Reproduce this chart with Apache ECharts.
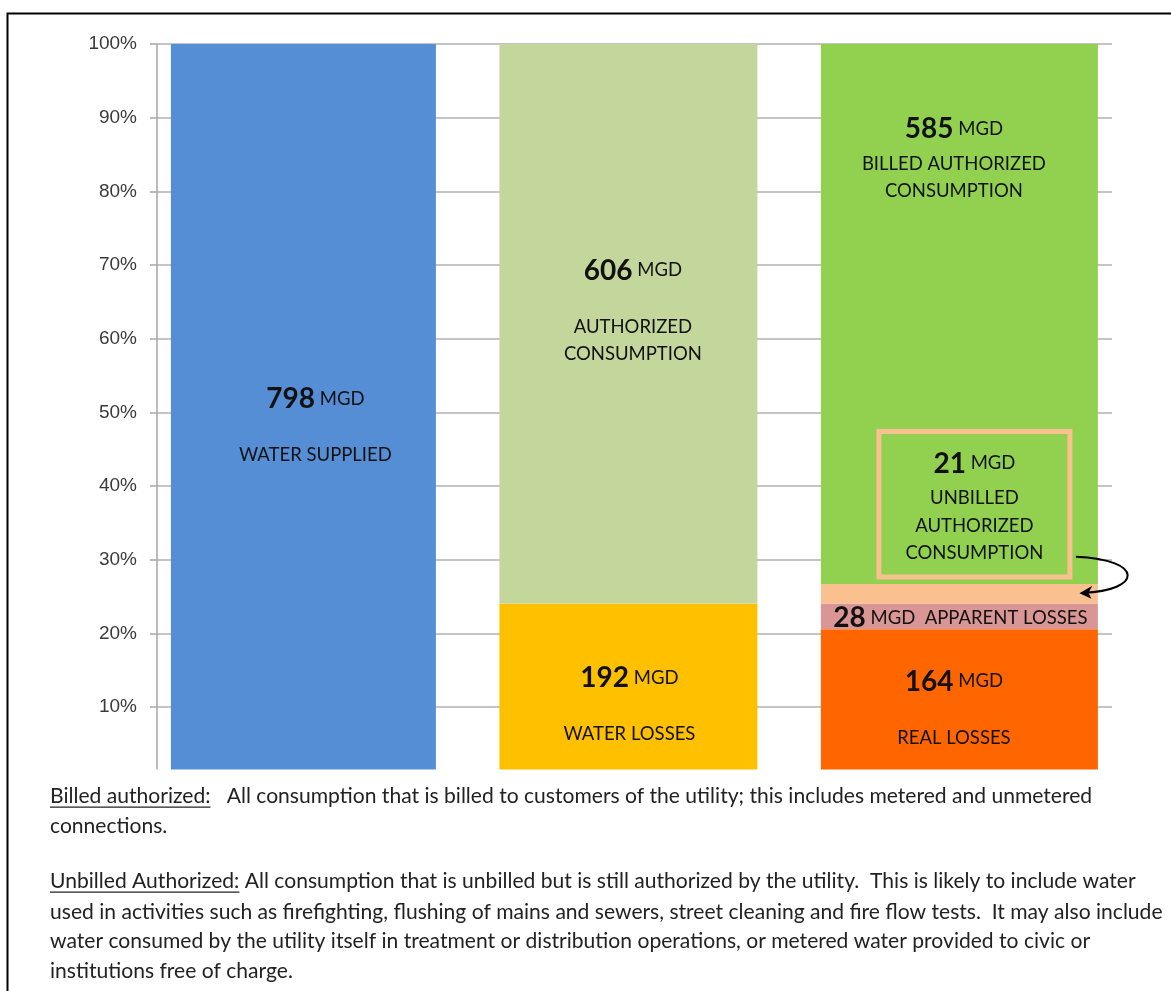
<!DOCTYPE html>
<html>
<head>
<meta charset="utf-8">
<script src="https://cdn.jsdelivr.net/npm/echarts@6/dist/echarts.min.js"></script>
<style>
  html, body { margin: 0; padding: 0; background: #ffffff; }
  #chart { width: 1171px; height: 991px; }
</style>
</head>
<body>
<div id="chart"></div>
<script>
// Water balance in million gallons per day (MGD), shown as shares of the water supplied
const categories = ['Supplied', 'Use and losses', 'Components'];

const suppliedNames = ['WATER SUPPLIED'];
const suppliedMgd = [798];

const balanceNames = ['WATER LOSSES', 'AUTHORIZED\nCONSUMPTION'];
const balanceMgd = [192, 606];

const componentNames = ['REAL LOSSES', 'APPARENT LOSSES', 'UNBILLED\nAUTHORIZED\nCONSUMPTION', 'BILLED AUTHORIZED\nCONSUMPTION'];
const componentMgd = [164, 28, 21, 585];

const percentTicks = [0, 10, 20, 30, 40, 50, 60, 70, 80, 90, 100];

const noteLines = [
  { u: 'Billed authorized:', t: '   All consumption that is billed to customers of the utility; this includes metered and unmetered' },
  { u: '', t: 'connections.' },
  { u: 'Unbilled Authorized:', t: ' All consumption that is unbilled but is still authorized by the utility.  This is likely to include water' },
  { u: '', t: 'used in activities such as firefighting, flushing of mains and sewers, street cleaning and fire flow tests.  It may also include' },
  { u: '', t: 'water consumed by the utility itself in treatment or distribution operations, or metered water provided to civic or' },
  { u: '', t: 'institutions free of charge.' }
];

// ---- styling ----
const LABEL_FONT = 'Lato, "Open Sans", sans-serif';
const INK = '#111111';
const colors = {
  supplied: '#558ED5',
  losses: '#FFC000',
  authorized: '#C3D69B',
  real: '#FF6600',
  apparent: '#D99694',
  unbilled: '#FAC090',
  billed: '#92D050'
};
// column widths (px) for the three stacks
const columnWidths = [265, 258, 277];
// which bar frame each column is laid out in
const columnGrid = [1, 2, 1];

const total = suppliedMgd[0];
const pct = v => v / total * 100;

const rich = {
  n: { fontFamily: LABEL_FONT, fontWeight: 'bold', fontSize: 28, lineHeight: 30, color: INK },
  m: { fontFamily: LABEL_FONT, fontSize: 18.5, lineHeight: 30, color: INK },
  n2: { fontFamily: LABEL_FONT, fontWeight: 'bold', fontSize: 28, lineHeight: 42, color: INK },
  m2: { fontFamily: LABEL_FONT, fontSize: 18.5, lineHeight: 42, color: INK },
  t: { fontFamily: LABEL_FONT, fontSize: 18.5, lineHeight: 27.5, color: INK }
};

const nameLines = name => name.split('\n').map(s => '{t|' + s + '}').join('\n');
// value line, blank line, caption
const spacedLabel = (mgd, name) => '{n|' + mgd + '} {m|MGD}\n{t| }\n' + nameLines(name);
// value line directly above the caption
const tightLabel = (mgd, name) => '{n2|' + mgd + '} {m2|MGD}\n' + nameLines(name);

// each column sits on its own (hidden) category axis so it can keep its own width
function seg(name, col, values, color, labelText, labelExtra) {
  const data = categories.map((c, i) => (i === col ? pct(values) : '-'));
  return {
    name: name,
    type: 'bar',
    stack: 'total' + col,
    xAxisIndex: 1 + col,
    yAxisIndex: columnGrid[col],
    barWidth: columnWidths[col],
    data: data,
    itemStyle: { color: color },
    emphasis: { disabled: true },
    label: Object.assign({
      show: true,
      position: 'inside',
      formatter: labelText,
      fontFamily: LABEL_FONT,
      fontSize: 18.5,
      color: INK,
      rich: rich
    }, labelExtra)
  };
}

const series = [
  seg(suppliedNames[0], 0, suppliedMgd[0], colors.supplied,
      spacedLabel(suppliedMgd[0], suppliedNames[0]), { offset: [12, 14] }),

  seg(balanceNames[0], 1, balanceMgd[0], colors.losses,
      spacedLabel(balanceMgd[0], balanceNames[0]), { offset: [1, 13.5] }),
  seg(balanceNames[1], 1, balanceMgd[1], colors.authorized,
      '{n|' + balanceMgd[1] + '} {m|MGD}\n{t| }\n' + nameLines(balanceNames[1]), { offset: [4.5, -12] }),

  seg(componentNames[0], 2, componentMgd[0], colors.real,
      spacedLabel(componentMgd[0], componentNames[0]), { offset: [-5.5, 4] }),
  seg(componentNames[1], 2, componentMgd[1], colors.apparent,
      '{n|' + componentMgd[1] + '} {m|MGD}  {m|' + componentNames[1] + '}', { offset: [1, 1.5] }),
  seg(componentNames[2], 2, componentMgd[2], colors.unbilled,
      tightLabel(componentMgd[2], componentNames[2]),
      { offset: [15, -89.5], width: 191, padding: [11, 0, 10, 0], borderColor: '#FAC090', borderWidth: 5, align: 'center' }),
  seg(componentNames[3], 2, componentMgd[3], colors.billed,
      tightLabel(componentMgd[3], componentNames[3]), { offset: [-5.5, -157.5] })
];

const chart = echarts.init(document.getElementById('chart'), null, { renderer: 'canvas' });

const GRID_TOP = 44;
const GRID_BOTTOM = 210.3;

chart.setOption({
  animation: false,
  backgroundColor: '#ffffff',
  grid: [
    // frame carrying the percentage axis and its gridlines
    { left: 157, right: 59, top: GRID_TOP, bottom: GRID_BOTTOM },
    // frames holding the stacked columns
    { left: 139.4, right: 47.6, top: GRID_TOP, bottom: GRID_BOTTOM },
    { left: 136.4, right: 50.6, top: GRID_TOP, bottom: GRID_BOTTOM }
  ],
  xAxis: [
    { type: 'category', gridIndex: 0, data: categories, show: false },
    { type: 'category', gridIndex: columnGrid[0], data: categories, show: false },
    { type: 'category', gridIndex: columnGrid[1], data: categories, show: false },
    { type: 'category', gridIndex: columnGrid[2], data: categories, show: false }
  ],
  yAxis: [
    {
      type: 'value', gridIndex: 0, min: percentTicks[0], max: percentTicks[percentTicks.length - 1], interval: 10,
      axisLine: { show: true, lineStyle: { color: '#A6A6A6', width: 1.5 } },
      axisTick: { show: true, length: 7, lineStyle: { color: '#A6A6A6', width: 1.5 } },
      splitLine: { show: true, lineStyle: { color: '#B0B0B0', width: 1.5 } },
      axisLabel: {
        margin: 20,
        fontFamily: '"Liberation Sans", Arial, sans-serif',
        fontSize: 19,
        color: '#3a3a3a',
        formatter: v => (v === 0 ? '' : v + '%')
      }
    },
    { type: 'value', gridIndex: 1, min: 0, max: 100, show: false },
    { type: 'value', gridIndex: 2, min: 0, max: 100, show: false }
  ],
  series: series
});

// ---- annotations: arrow from the label box, page frame, notes ----
const NOTE_FONT = 'Lato, "Open Sans", sans-serif';
const meas = document.createElement('canvas').getContext('2d');
function textWidth(str, size) {
  meas.font = size + 'px ' + NOTE_FONT;
  return meas.measureText(str).width;
}
// notes span the width of the page below the chart
const noteSize = 1113 / textWidth(noteLines[3].t, 100) * 100;

const noteX = 50;
const noteMid = [796.5, 826.5, 881.5, 912, 941.5, 971.5];
const graphics = [];

// white band closing off the bottom of the plot above the notes
graphics.push({
  type: 'rect', z: 100, silent: true,
  shape: { x: 120, y: 769.5, width: 1020, height: 13 },
  style: { fill: '#ffffff' }
});

// page frame (top and left edges)
graphics.push({
  type: 'polyline', z: 110, silent: true,
  shape: { points: [[7.5, 991], [7.5, 13.5], [1171, 13.5]] },
  style: { stroke: '#000000', lineWidth: 2, fill: null }
});

noteLines.forEach((ln, i) => {
  graphics.push({
    type: 'text', z: 120, silent: true,
    x: noteX, y: noteMid[i],
    style: {
      text: ln.u + ln.t,
      font: noteSize + 'px ' + NOTE_FONT,
      fill: '#222222',
      align: 'left',
      verticalAlign: 'middle'
    }
  });
  if (ln.u) {
    const w = textWidth(ln.u, noteSize);
    const uy = noteMid[i] + 0.387 * noteSize + 2.5;
    graphics.push({
      type: 'line', z: 120, silent: true,
      shape: { x1: noteX, y1: uy, x2: noteX + w, y2: uy },
      style: { stroke: '#222222', lineWidth: 1.2 }
    });
  }
});

// curved arrow from the label box to the unbilled slice of the third column
const unbilledBase = pct(componentMgd[0]) + pct(componentMgd[1]);
const unbilledMid = unbilledBase + pct(componentMgd[2]) / 2;
const p = chart.convertToPixel({ gridIndex: columnGrid[2] }, [2, unbilledMid]);
const tip = [p[0] + 120, p[1] - 1];
const start = [p[0] + 116.5, p[1] - 37];
graphics.push({
  type: 'bezierCurve', z: 90, silent: true,
  shape: {
    x1: start[0], y1: start[1],
    cpx1: start[0] + 70, cpy1: start[1] + 3,
    cpx2: tip[0] + 62, cpy2: tip[1] - 2,
    x2: tip[0] + 4, y2: tip[1]
  },
  style: { stroke: '#000000', lineWidth: 2, fill: null }
});
graphics.push({
  type: 'polygon', z: 91, silent: true,
  shape: { points: [[tip[0], tip[1] + 0.5], [tip[0] + 13, tip[1] - 7], [tip[0] + 9, tip[1]], [tip[0] + 12, tip[1] + 6]] },
  style: { fill: '#000000' }
});

chart.setOption({ graphic: graphics });
</script>
</body>
</html>
